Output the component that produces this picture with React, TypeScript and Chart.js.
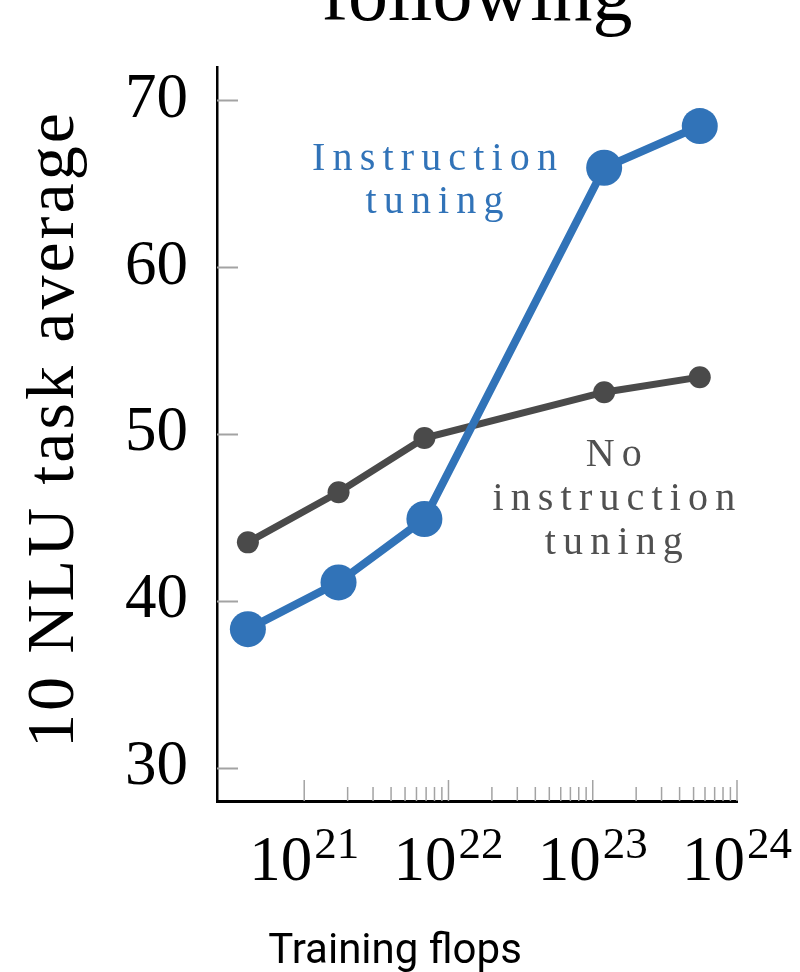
import React, { useEffect, useRef } from "react";
import { Chart, registerables } from "chart.js";

Chart.register(...registerables);

// ---- data ----
const trainingFlops = [4.07e20, 1.73e21, 6.81e21, 1.2e23, 5.52e23];
const instructionTuning = [38.3, 41.1, 44.9, 65.95, 68.45];
const noInstructionTuning = [43.5, 46.5, 49.75, 52.5, 53.4];
const yTickValues = [30, 40, 50, 60, 70];
const xMajorExponents = [21, 22, 23, 24];
const xMinorMultipliers = [2, 3, 4, 5, 6, 7, 8, 9];
const seriesNames = ["Instruction tuning", "No instruction tuning"];
const instructionLabelLines = ["Instruction", "tuning"];
const noInstructionLabelLines = ["No", "instruction", "tuning"];
const titleText = "following";
const yAxisTitle = "10 NLU task average";
const xAxisTitle = "Training flops";

const BLUE = "#3173b8";
const GRAY = "#4a4a4a";
const TICK_GRAY = "#a3a3a3";
const SERIF = '"Liberation Serif", "DejaVu Serif", serif';

function drawFitted(
  ctx: CanvasRenderingContext2D,
  text: string,
  cx: number,
  y: number,
  ls: number
) {
  ctx.letterSpacing = "0px";
  const w0 = ctx.measureText(text).width;
  const total = w0 + ls * (text.length - 1);
  ctx.letterSpacing = ls + "px";
  ctx.textAlign = "left";
  ctx.fillText(text, cx - total / 2, y);
  ctx.letterSpacing = "0px";
}

function fitSpacing(ctx: CanvasRenderingContext2D, text: string, target: number) {
  ctx.letterSpacing = "0px";
  const w0 = ctx.measureText(text).width;
  return Math.max(0, (target - w0) / (text.length - 1));
}

const decorPlugin = {
  id: "decor",
  beforeDatasetsDraw(chart: any) {
    const ctx: CanvasRenderingContext2D = chart.ctx;
    const xs = chart.scales.x;
    const ys = chart.scales.y;
    const area = chart.chartArea;
    ctx.save();
    ctx.strokeStyle = TICK_GRAY;
    ctx.lineWidth = 2;
    for (const v of yTickValues) {
      const py = Math.round(ys.getPixelForValue(v)) + 0.5;
      ctx.beginPath();
      ctx.moveTo(area.left, py);
      ctx.lineTo(area.left + 21, py);
      ctx.stroke();
    }
    ctx.lineWidth = 1.5;
    for (const e of xMajorExponents) {
      const px = xs.getPixelForValue(Math.pow(10, e));
      ctx.beginPath();
      ctx.moveTo(px, area.bottom);
      ctx.lineTo(px, area.bottom - 21);
      ctx.stroke();
      if (e < xMajorExponents[xMajorExponents.length - 1]) {
        for (const m of xMinorMultipliers) {
          const pm = xs.getPixelForValue(m * Math.pow(10, e));
          ctx.beginPath();
          ctx.moveTo(pm, area.bottom);
          ctx.lineTo(pm, area.bottom - 14);
          ctx.stroke();
        }
      }
    }
    ctx.restore();
  },
  afterDraw(chart: any) {
    const ctx: CanvasRenderingContext2D = chart.ctx;
    const xs = chart.scales.x;
    const ys = chart.scales.y;
    const area = chart.chartArea;
    ctx.save();
    ctx.textBaseline = "alphabetic";

    // x tick labels 10^n
    for (const e of xMajorExponents) {
      const px = xs.getPixelForValue(Math.pow(10, e));
      ctx.font = `63px ${SERIF}`;
      const wb = ctx.measureText("10").width;
      ctx.font = `45px ${SERIF}`;
      const sup = String(e);
      const ws = ctx.measureText(sup).width;
      const gap = 2;
      const start = px - (wb + gap + ws) / 2;
      ctx.fillStyle = "#000";
      ctx.textAlign = "left";
      ctx.font = `63px ${SERIF}`;
      ctx.fillText("10", start, area.bottom + 79);
      ctx.font = `45px ${SERIF}`;
      ctx.fillText(sup, start + wb + gap, area.bottom + 57);
    }

    // title (cut at top)
    ctx.fillStyle = "#000";
    ctx.font = `80px ${SERIF}`;
    const tls = fitSpacing(ctx, titleText, 310);
    drawFitted(ctx, titleText, (area.left + area.right) / 2, 20, tls);

    // y axis title
    ctx.save();
    ctx.translate(73, 430.5);
    ctx.rotate(-Math.PI / 2);
    ctx.font = `68px ${SERIF}`;
    const yls = fitSpacing(ctx, yAxisTitle, 635);
    drawFitted(ctx, yAxisTitle, 0, 0, yls);
    ctx.restore();

    // x axis title
    ctx.fillStyle = "#000";
    ctx.font = '42px Roboto, "Liberation Sans", sans-serif';
    const xls = fitSpacing(ctx, xAxisTitle, 251);
    drawFitted(ctx, xAxisTitle, 395, 963, Math.min(xls, 1));

    // series annotations (anchored in data space)
    ctx.font = `40px ${SERIF}`;
    const als = fitSpacing(ctx, instructionLabelLines[0], 245);
    ctx.fillStyle = BLUE;
    const ix = xs.getPixelForValue(8e21);
    const iy = ys.getPixelForValue(65.8);
    instructionLabelLines.forEach((t, i) => drawFitted(ctx, t, ix, iy + i * 43, als));
    ctx.fillStyle = "#505050";
    const nx = xs.getPixelForValue(1.4e23);
    const ny = ys.getPixelForValue(48.1);
    noInstructionLabelLines.forEach((t, i) => drawFitted(ctx, t, nx, ny + i * 44, als));

    ctx.restore();
  },
};

export default function App() {
  const ref = useRef<HTMLCanvasElement | null>(null);
  useEffect(() => {
    if (!ref.current) return;
    const chart = new Chart(ref.current, {
      type: "line",
      data: {
        datasets: [
          {
            label: seriesNames[0],
            data: trainingFlops.map((x, i) => ({ x, y: instructionTuning[i] })),
            borderColor: BLUE,
            backgroundColor: BLUE,
            borderWidth: 8,
            pointRadius: 18,
            pointBorderWidth: 0,
            pointHoverRadius: 18,
          },
          {
            label: seriesNames[1],
            data: trainingFlops.map((x, i) => ({ x, y: noInstructionTuning[i] })),
            borderColor: GRAY,
            backgroundColor: GRAY,
            borderWidth: 7,
            pointRadius: 11,
            pointBorderWidth: 0,
            pointHoverRadius: 11,
          },
        ],
      },
      options: {
        animation: false,
        responsive: false,
        clip: false as any,
        layout: { padding: { left: 0, top: 66, right: 63, bottom: 0 } },
        plugins: { legend: { display: false }, tooltip: { enabled: false }, title: { display: false } },
        events: [],
        scales: {
          x: {
            type: "logarithmic",
            min: 2.486e20,
            max: 1e24,
            grid: { display: false, drawTicks: false },
            border: { display: true, color: "#000", width: 3 },
            ticks: { display: false },
            afterFit: (s: any) => {
              s.height = 171;
            },
          },
          y: {
            type: "linear",
            min: 28,
            max: 72,
            grid: { display: false, drawTicks: false },
            border: { display: true, color: "#000", width: 2.5 },
            afterBuildTicks: (s: any) => {
              s.ticks = yTickValues.map((v) => ({ value: v }));
            },
            ticks: {
              color: "#000",
              padding: 29,
              font: { family: SERIF, size: 63 },
              callback: (v: any) => String(v),
            },
            afterFit: (s: any) => {
              s.width = 217;
            },
          },
        },
      } as any,
      plugins: [decorPlugin],
    });
    return () => chart.destroy();
  }, []);
  return (
    <div style={{ position: "absolute", left: 0, top: 0, width: 800, height: 972, background: "#fff" }}>
      <canvas ref={ref} width={800} height={972} style={{ display: "block" }} />
    </div>
  );
}
